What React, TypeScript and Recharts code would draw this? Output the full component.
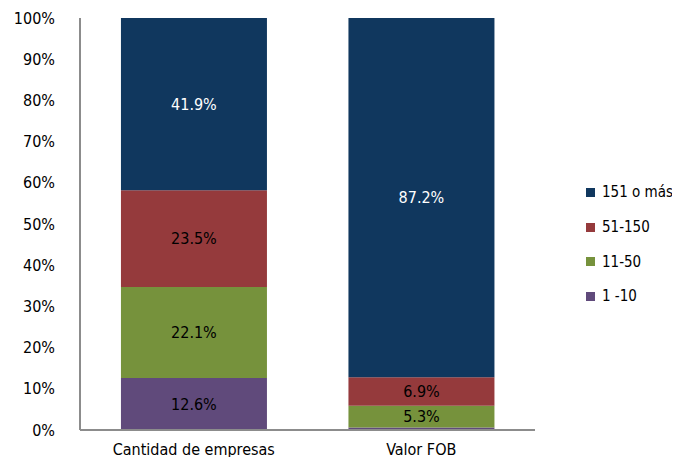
import { Bar, BarChart, LabelList, XAxis, YAxis } from 'recharts'

const CATEGORIES = ['Cantidad de empresas', 'Valor FOB']
const SMALL = [12.6, 0.6] // 1 -10
const MEDIUM = [22.1, 5.3] // 11-50
const LARGE = [23.5, 6.9] // 51-150
const XLARGE = [41.9, 87.2] // 151 o más
const Y_TICKS = [0, 10, 20, 30, 40, 50, 60, 70, 80, 90, 100]

const SERIES = [
  { key: 'small', name: '1 -10', color: '#604a7b', text: '#000' },
  { key: 'medium', name: '11-50', color: '#76923c', text: '#000' },
  { key: 'large', name: '51-150', color: '#953a3c', text: '#000' },
  { key: 'xlarge', name: '151 o más', color: '#10375e', text: '#fff' },
]

const data = CATEGORIES.map((c, i) => ({
  name: c, small: SMALL[i], medium: MEDIUM[i], large: LARGE[i], xlarge: XLARGE[i],
}))

const FONT = '"DejaVu Sans Condensed", "Liberation Sans Narrow", sans-serif'

function LegendBox() {
  const items = [...SERIES].reverse()
  return (
    <div style={{ position: 'absolute', left: 586, top: 175, fontFamily: FONT, fontSize: 15, color: '#000', whiteSpace: 'nowrap' }}>
      {items.map((s) => (
        <div key={s.key} style={{ display: 'flex', alignItems: 'center', height: 34.7 }}>
          <span style={{ width: 9, height: 9, background: s.color, marginRight: 7, display: 'inline-block' }} />
          {s.name}
        </div>
      ))}
    </div>
  )
}

export default function App() {
  return (
    <div style={{ margin: -8, width: 680, height: 465, background: '#fff', position: 'relative' }}>
      <BarChart width={680} height={465} data={data} barCategoryGap="18%"
        margin={{ top: 18, right: 145, bottom: 0, left: 0 }} style={{ fontFamily: FONT }}>
        <XAxis dataKey="name" tickLine={false} axisLine={{ stroke: '#8c8c8c', strokeWidth: 2 }}
          height={35} tick={{ fontSize: 16, fill: '#000', dy: 6 }} interval={0} />
        <YAxis type="number" domain={[0, 100]} ticks={Y_TICKS} tickLine={false} width={80}
          axisLine={{ stroke: '#8c8c8c', strokeWidth: 2 }} allowDataOverflow
          tick={{ fontSize: 16, fill: '#000', dx: -17 }} tickFormatter={(v) => `${v}%`} />
        {SERIES.map((s) => (
          <Bar key={s.key} dataKey={s.key} name={s.name} stackId="a" fill={s.color} isAnimationActive={false}>
            <LabelList dataKey={s.key} position="center" fill={s.text} fontSize={16}
              formatter={(v: any) => (v >= 1 ? `${v.toFixed(1)}%` : '')} />
          </Bar>
        ))}
      </BarChart>
      <LegendBox />
    </div>
  )
}
